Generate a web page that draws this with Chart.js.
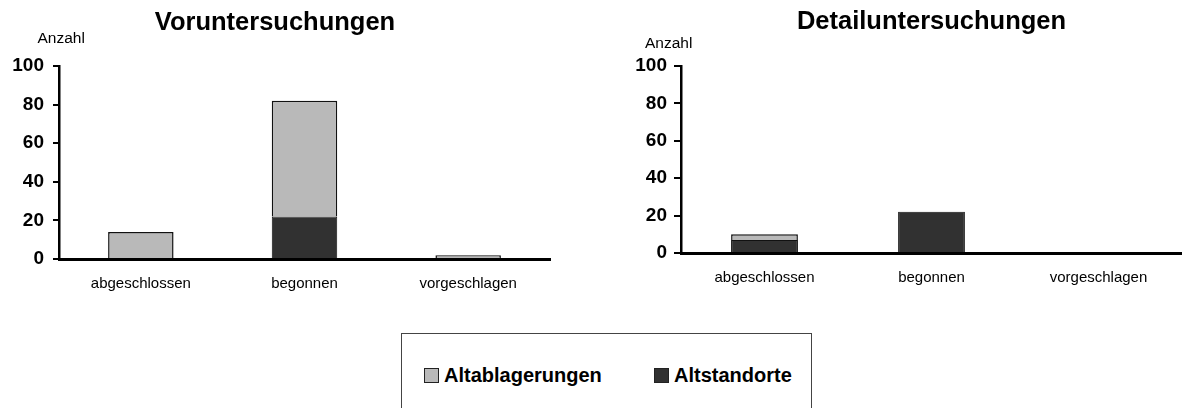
<!DOCTYPE html>
<html>
<head>
<meta charset="utf-8">
<script src="https://cdn.jsdelivr.net/npm/chart.js@4/dist/chart.umd.min.js"></script>
<style>
  html, body { margin: 0; padding: 0; background: #fff; }
  body { width: 1182px; height: 408px; position: relative; overflow: hidden; font-family: 'Liberation Sans', Arial, sans-serif; }
  canvas { position: absolute; top: 0; }
  #c1 { left: 0; }
  #c2 { left: 600px; }
  #legend {
    position: absolute; left: 401px; top: 333px; width: 411px; height: 110px;
    border: 1px solid #444; box-sizing: border-box; background: transparent;
  }
  .item { position: absolute; top: 29px; height: 24px; line-height: 24px; font-weight: bold; font-size: 20px; color: #000; white-space: nowrap; }
  .sw { display: inline-block; width: 13px; height: 13px; border: 1px solid #222; margin-right: 5px; vertical-align: -1px; }
</style>
</head>
<body>
<canvas id="c1" width="560" height="330"></canvas>
<canvas id="c2" width="582" height="330"></canvas>
<div id="legend"></div>
<script>
// ---- data ----
const categories = ['abgeschlossen', 'begonnen', 'vorgeschlagen'];
const seriesNames = ['Altablagerungen', 'Altstandorte'];
const vorAltablagerungen = [14, 60, 2];
const vorAltstandorte = [0, 22, 0];
const detAltablagerungen = [3, 0, 0];
const detAltstandorte = [7, 22, 0];
const yTicks = [0, 20, 40, 60, 80, 100];
const titles = ['Voruntersuchungen', 'Detailuntersuchungen'];
const axisLabel = 'Anzahl';

// ---- styles ----
const colorLight = '#b9b9b9';
const colorDark = '#313131';
const FONT = "'Liberation Sans', Arial, sans-serif";
Chart.defaults.font.family = FONT;
Chart.defaults.color = '#000';

const anzahlPlugin = {
  id: 'anzahl',
  afterDraw(chart, args, opts) {
    const ctx = chart.ctx;
    ctx.save();
    ctx.font = '15.5px ' + FONT;
    ctx.fillStyle = '#000';
    ctx.textAlign = 'left';
    ctx.textBaseline = 'middle';
    ctx.fillText(opts.text, chart.chartArea.left + opts.dx, opts.y);
    ctx.restore();
  }
};

function makeChart(id, title, light, dark, L) {
  return new Chart(document.getElementById(id), {
    type: 'bar',
    data: {
      labels: categories,
      datasets: [
        { label: seriesNames[1], data: dark, backgroundColor: colorDark, borderColor: '#111', borderWidth: 1, borderSkipped: 'start' },
        { label: seriesNames[0], data: light, backgroundColor: colorLight, borderColor: '#111', borderWidth: 1.5, borderSkipped: 'start' }
      ]
    },
    options: {
      responsive: false,
      devicePixelRatio: 1,
      animation: false,
      layout: { padding: { top: 0, left: 0, right: L.padRight, bottom: L.padBottom } },
      datasets: { bar: { categoryPercentage: 1, barPercentage: 0.4 } },
      plugins: {
        legend: { display: false },
        tooltip: { enabled: false },
        title: {
          display: true, text: title, color: '#000', fullSize: L.titleFull,
          font: { size: 25.5, weight: 'bold', lineHeight: 1.2 },
          padding: { top: L.titleTop, bottom: L.titleBottom }
        },
        anzahl: { text: axisLabel, dx: L.anzDx, y: L.anzY }
      },
      scales: {
        x: {
          stacked: true,
          grid: { display: false },
          border: { display: true, color: '#000', width: 3, z: 1 },
          ticks: { font: { size: 15 }, padding: L.xPad, color: '#000' }
        },
        y: {
          stacked: true,
          min: 0, max: 100,
          afterBuildTicks: s => { s.ticks = yTicks.map(v => ({ value: v })); },
          afterFit: s => { s.width = L.yWidth; },
          grid: { display: true, drawOnChartArea: false, drawTicks: true, tickLength: L.tickLen, color: '#000', lineWidth: 2 },
          border: { display: true, color: '#000', width: 2.5, z: 1 },
          ticks: { font: { size: 19, weight: 'bold' }, padding: L.yPad, color: '#000' }
        }
      }
    },
    plugins: [anzahlPlugin]
  });
}

makeChart('c1', titles[0], vorAltablagerungen, vorAltstandorte,
  { titleFull: true, padRight: 10, padBottom: 29, titleTop: 7.5, titleBottom: 27.9, anzDx: -21.5, anzY: 39, xPad: 8, yWidth: 59, tickLen: 6, yPad: 9 });
makeChart('c2', titles[1], detAltablagerungen, detAltstandorte,
  { titleFull: false, padRight: 0, padBottom: 35, titleTop: 6.5, titleBottom: 28.9, anzDx: -36, anzY: 44, xPad: 8, yWidth: 81, tickLen: 7, yPad: 7 });

// ---- legend ----
const legend = document.getElementById('legend');
const legendItems = [
  { name: seriesNames[0], color: colorLight, left: 22 },
  { name: seriesNames[1], color: colorDark, left: 252 }
];
legendItems.forEach(it => {
  const d = document.createElement('div');
  d.className = 'item';
  d.style.left = it.left + 'px';
  const sw = document.createElement('span');
  sw.className = 'sw';
  sw.style.background = it.color;
  d.appendChild(sw);
  d.appendChild(document.createTextNode(it.name));
  legend.appendChild(d);
});
</script>
</body>
</html>
